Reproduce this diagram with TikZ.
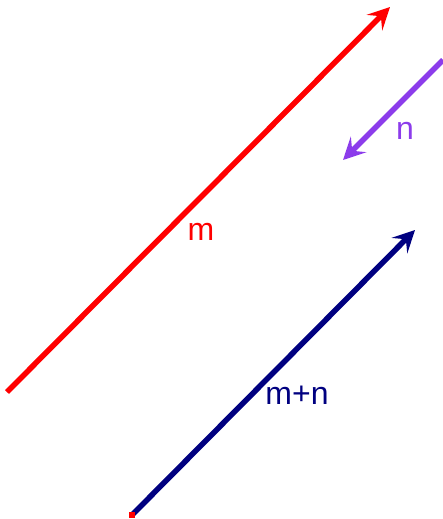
\documentclass[tikz,border=0pt]{standalone}
\usepackage{fontspec}
\setmainfont{Liberation Sans}
\usetikzlibrary{arrows.meta}
\definecolor{vred}{RGB}{255,0,0}
\definecolor{vpurple}{RGB}{140,60,235}
\definecolor{vnavy}{RGB}{0,0,128}
\tikzset{
  vec/.style={line width=5.5pt, -{Stealth[length=22pt,width=22pt,inset=9pt]}},
  lbl/.style={font=\fontsize{32}{32}\selectfont, inner sep=0pt},
  pt/.style={fill=vred, inner sep=0pt, minimum size=6pt}
}
\begin{document}
\begin{tikzpicture}[x=1pt,y=-1pt]
\useasboundingbox (0,0) rectangle (442,519);
\coordinate (ma) at (7,392);
\coordinate (mb) at (390,7);
\coordinate (na) at (443,60);
\coordinate (nb) at (343,160);
\coordinate (sa) at (132,515);
\coordinate (sb) at (415,230);
\draw[vec, vred] (ma) -- (mb);
\draw[vec, vpurple] (na) -- (nb);
\draw[vec, vnavy] (sa) -- (sb);
\node[pt] (p1) at (sa) {};
\node[lbl, text=vred] (lm) at (201,232) {m};
\node[lbl, text=vpurple] (ln) at (405,131) {n};
\node[lbl, text=vnavy] (lmn) at (297,395) {m+n};
\end{tikzpicture}
\end{document}
